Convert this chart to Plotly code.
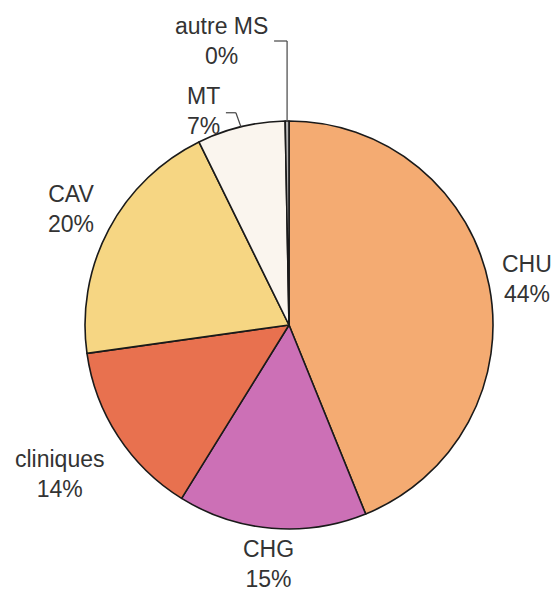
import plotly.graph_objects as go
import math

# ---- data ----
labels = ["CHU", "CHG", "cliniques", "CAV", "MT", "autre MS"]
values = [44, 15, 14, 20, 7, 0.3]
colors = ["#F4AB72", "#CC70B6", "#E8714F", "#F6D683", "#FAF5EE", "#B8B8B8"]

# ---- layout params (pixels) ----
W, H = 556, 594
CX, CY, R = 289, 325, 204
label_k = [1.19, 1.175, 1.34, 1.21, None, None]   # radial distance factor for text centers

def to_paper(px, py):
    return px / W, 1 - py / H

total = sum(values)
fracs = [v / total for v in values]
cum = []
c = 0
for f in fracs:
    cum.append((c, c + f))
    c += f

def arc_point(frac, k=1.0):
    a = frac * 2 * math.pi
    return CX + k * R * math.sin(a), CY - k * R * math.cos(a)

fig = go.Figure(go.Pie(
    labels=labels, values=values, sort=False, direction="clockwise", rotation=0,
    marker=dict(colors=colors, line=dict(color="#1a1a1a", width=1.6)),
    textinfo="none", hoverinfo="label+percent", showlegend=False,
    domain=dict(x=[(CX - R) / W, (CX + R) / W], y=[1 - (CY + R) / H, 1 - (CY - R) / H]),
))

font = dict(family="Arial, Liberation Sans, sans-serif", size=23, color="#333333")
annotations = []
shapes = []
for i, lab in enumerate(labels):
    pct = f"{round(fracs[i] * 100)}%"
    text = f"{lab}<br>{pct}"
    mid = (cum[i][0] + cum[i][1]) / 2
    if label_k[i] is not None:
        px, py = arc_point(mid, label_k[i])
        x, y = to_paper(px, py)
        annotations.append(dict(x=x, y=y, xref="paper", yref="paper", text=text,
                                showarrow=False, font=font, xanchor="center", yanchor="middle"))

def leader(i, segs, lx, ly):
    for (x0, y0, x1, y1) in segs:
        p0 = to_paper(x0, y0); p1 = to_paper(x1, y1)
        shapes.append(dict(type="line", xref="paper", yref="paper", x0=p0[0], y0=p0[1],
                           x1=p1[0], y1=p1[1], line=dict(color="#444", width=1.2)))
    x, y = to_paper(lx, ly)
    annotations.append(dict(x=x, y=y, xref="paper", yref="paper",
                            text=f"{labels[i]}<br>{round(fracs[i]*100)}%", showarrow=False,
                            font=font, xanchor="right", yanchor="middle", align="center"))

# MT label with elbow leader
i = 4
mid = (cum[i][0] + cum[i][1]) / 2
ax, ay = arc_point(mid, 1.0)
ex, ey = ax - 5, ay - 14
hx = ex - 10
leader(i, [(ax, ay, ex, ey), (ex, ey, hx, ey)], hx - 4, ey - 2)

# autre MS label with elbow leader
i = 5
mid = (cum[i][0] + cum[i][1]) / 2
ax, ay = arc_point(mid, 1.0)
ex, ey = ax, 41
hx = ex - 13
leader(i, [(ax, ay, ex, ey), (ex, ey, hx, ey)], hx - 4, ey)

fig.update_layout(width=W, height=H, margin=dict(l=0, r=0, t=0, b=0),
                  paper_bgcolor="white", plot_bgcolor="white",
                  annotations=annotations, shapes=shapes)
fig.write_html("out.html", config={"displayModeBar": False},
               post_script="document.body.style.margin='0';document.body.style.padding='0';")
